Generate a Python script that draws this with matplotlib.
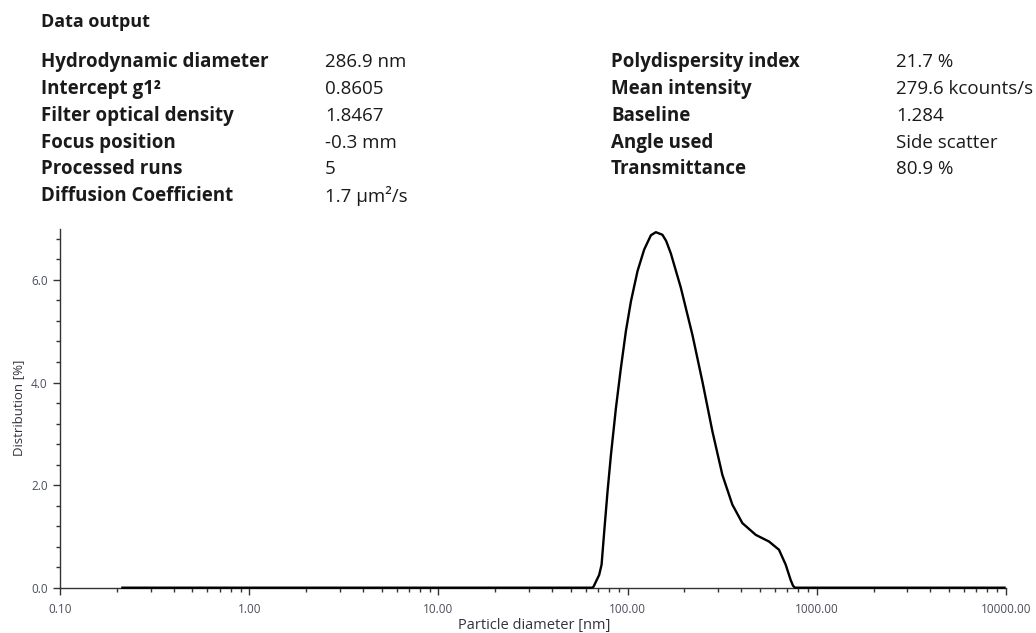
import matplotlib
matplotlib.use("Agg")
import matplotlib.pyplot as plt
from matplotlib.ticker import LogLocator, FixedLocator, MultipleLocator, FuncFormatter

# ---- data ----
diameter_nm = [0.21, 65.0, 66.1, 70.8, 72.9, 75.3, 78.4, 81.7, 86.8, 92.2, 98.0, 104.2,
               112.9, 122.4, 132.9, 141.2, 152.9, 160.0, 169.3, 191.3, 220.3, 248.8,
               281.0, 317.3, 358.3, 404.7, 476.5, 560.0, 632.3, 686.0, 729.1, 749.7,
               768.0, 10000.0]
distribution_pct = [0.0, 0.0, 0.02, 0.25, 0.45, 1.10, 1.88, 2.59, 3.50, 4.28, 5.00, 5.58,
                    6.17, 6.59, 6.87, 6.93, 6.88, 6.76, 6.52, 5.85, 4.93, 4.02,
                    3.05, 2.20, 1.62, 1.26, 1.03, 0.90, 0.74, 0.45, 0.15, 0.04,
                    0.0, 0.0]

x_ticks = [0.1, 1, 10, 100, 1000, 10000]
y_ticks = [0.0, 2.0, 4.0, 6.0]

left_labels = ["Hydrodynamic diameter", "Intercept g1\u00b2", "Filter optical density",
               "Focus position", "Processed runs", "Diffusion Coefficient"]
left_values = ["286.9 nm", "0.8605", "1.8467", "-0.3 mm", "5", "1.7 \u00b5m\u00b2/s"]
right_labels = ["Polydispersity index", "Mean intensity", "Baseline", "Angle used", "Transmittance"]
right_values = ["21.7 %", "279.6 kcounts/s", "1.284", "Side scatter", "80.9 %"]

W, H = 1036, 633
fig = plt.figure(figsize=(W / 100, H / 100), dpi=100)
fig.patch.set_facecolor("white")

hdr_font = ["Open Sans", "DejaVu Sans"]
txt_color = "#1a1a1a"

def fx(px):
    return px / W

def fy(py):
    return 1 - py / H

fig.text(fx(41), fy(21.7), "Data output", fontsize=13, fontweight="bold",
         family=hdr_font, color=txt_color, va="center", ha="left")

row_y = [62, 89, 116, 143, 169, 196]
for i, (lab, val) in enumerate(zip(left_labels, left_values)):
    fig.text(fx(41), fy(row_y[i]), lab, fontsize=13.5, fontweight="bold",
             family=hdr_font, color=txt_color, va="center", ha="left")
    fig.text(fx(325), fy(row_y[i]), val, fontsize=13.5,
             family=hdr_font, color=txt_color, va="center", ha="left")
for i, (lab, val) in enumerate(zip(right_labels, right_values)):
    fig.text(fx(611), fy(row_y[i]), lab, fontsize=13.5, fontweight="bold",
             family=hdr_font, color=txt_color, va="center", ha="left")
    fig.text(fx(896), fy(row_y[i]), val, fontsize=13.5,
             family=hdr_font, color=txt_color, va="center", ha="left")

# ---- axes ----
ax_left, ax_right = 60.3, 1005.7
ax_bottom, ax_top = 587.7, 228.6
ax = fig.add_axes([ax_left / W, 1 - ax_bottom / H, (ax_right - ax_left) / W, (ax_bottom - ax_top) / H])
ax.set_xscale("log")
ax.set_xlim(0.1, 10000)
ax.set_ylim(0, 7.0)

ax.plot(diameter_nm, distribution_pct, color="black", lw=1.7, solid_joinstyle="round",
        solid_capstyle="butt", clip_on=False, zorder=5)

for s in ["top", "right"]:
    ax.spines[s].set_visible(False)
for s in ["left", "bottom"]:
    ax.spines[s].set_color("#333333")
    ax.spines[s].set_linewidth(1.0)

ax.xaxis.set_major_locator(FixedLocator(x_ticks))
ax.xaxis.set_minor_locator(LogLocator(base=10, subs=range(2, 10)))
ax.xaxis.set_major_formatter(FuncFormatter(lambda v, p: f"{v:.2f}"))
ax.xaxis.set_minor_formatter(FuncFormatter(lambda v, p: ""))

ax.yaxis.set_major_locator(FixedLocator(y_ticks))
ax.yaxis.set_minor_locator(MultipleLocator(0.4))
ax.yaxis.set_major_formatter(FuncFormatter(lambda v, p: f"{v:.1f}"))

tick_font = ["Open Sans", "DejaVu Sans"]
tick_color = "#4a4f5c"
ax.tick_params(axis="both", which="major", length=5, width=1.0, color="#333333",
               labelcolor=tick_color)
ax.tick_params(axis="x", which="major", labelsize=8.5, pad=6)
ax.tick_params(axis="y", which="major", labelsize=8.5, pad=4)
ax.tick_params(axis="both", which="minor", length=3, width=1.0, color="#333333")
for lab in ax.get_xticklabels() + ax.get_yticklabels():
    lab.set_family(tick_font)

ax.set_xlabel("Particle diameter [nm]", fontsize=10.5, family=tick_font, color="#333340")
ax.set_ylabel("Distribution [%]", fontsize=9.5, family=tick_font, color="#333340")
ax.xaxis.set_label_coords((534 - ax_left) / (ax_right - ax_left), -(625 - ax_bottom) / (ax_bottom - ax_top))
ax.xaxis.label.set_va("center")
ax.yaxis.set_label_coords(-(ax_left - 19) / (ax_right - ax_left), (ax_bottom - 408) / (ax_bottom - ax_top))
ax.yaxis.label.set_va("center")

fig.savefig("out.png", dpi=100, facecolor="white")
